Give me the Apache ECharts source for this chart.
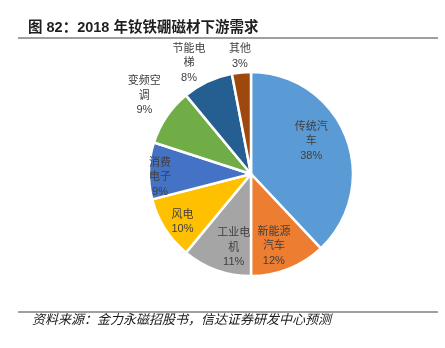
<!DOCTYPE html>
<html><head><meta charset="utf-8">
<script src="https://cdn.jsdelivr.net/npm/echarts@6/dist/echarts.min.js"></script>
<style>html,body{margin:0;padding:0;background:#fff}#c{width:445px;height:348px}</style>
</head><body><div id="c"></div>
<script>
var categories = ['传统汽车','新能源汽车','工业电机','风电','消费电子','变频空调','节能电梯','其他'];
var labelTexts = ['传统汽\n车','新能源\n汽车','工业电\n机','风电','消费\n电子','变频空\n调','节能电\n梯','其他'];
var values = [38, 12, 11, 10, 9, 9, 8, 3];
var colors = ['#5B9BD5','#ED7D31','#A5A5A5','#FFC000','#4472C4','#70AD47','#255E91','#9E480E'];
var labelOffsets = [[10,-13],[3,22],[1,23],[-23,19],[-37,5],[-62,-48],[-39,-62],[-6,-64]];
var titleText = '图 82：2018 年钕铁硼磁材下游需求';
var sourceText = '资料来源：金力永磁招股书，信达证券研发中心预测';

var data = categories.map(function(n,i){
  return {
    name: n, value: values[i],
    itemStyle: {color: colors[i]},
    label: {offset: labelOffsets[i], formatter: labelTexts[i] + '\n' + values[i] + '%'}
  };
});
var chart = echarts.init(document.getElementById('c'));
chart.setOption({
  animation: false,
  title: {text: titleText, left: 23, top: 16,
    textStyle: {fontSize: 14.5, fontWeight: 'bold', color: '#1f1f1f', fontFamily: 'Liberation Sans, Noto Sans CJK SC'}},
  graphic: [
    {type:'line', shape:{x1:18,y1:38,x2:438,y2:38}, style:{stroke:'#7f7f7f', lineWidth:1.5}},
    {type:'line', shape:{x1:18,y1:312,x2:438,y2:312}, style:{stroke:'#404040', lineWidth:1}},
    {type:'text', left: 32, top: 313, style:{text: sourceText, fill:'#1a1a1a', font:'italic 13px "Noto Sans CJK SC"'}}
  ],
  series: [{
    type: 'pie',
    center: [251, 174],
    radius: [0, 102],
    startAngle: 90,
    clockwise: true,
    data: data,
    itemStyle: {borderColor: '#fff', borderWidth: 2.5},
    label: {position: 'inside', color: '#404040', fontSize: 11, lineHeight: 14.5,
      fontFamily: 'Liberation Sans, Noto Sans CJK SC', align: 'center'},
    labelLine: {show: false},
    emphasis: {disabled: true}
  }]
});
</script></body></html>
